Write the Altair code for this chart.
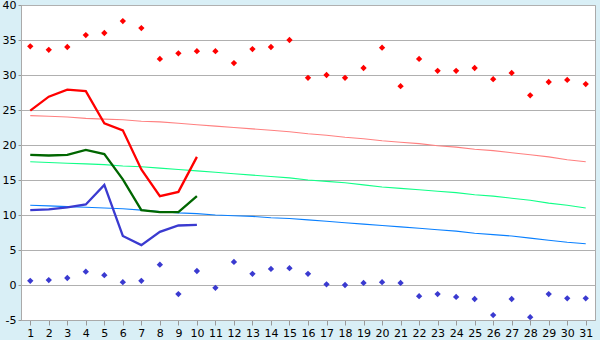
import altair as alt
import pandas as pd

days = list(range(1, 32))

rec_max = [34.1, 33.6, 34.0, 35.7, 36.0, 37.7, 36.7, 32.3, 33.1, 33.4, 33.4, 31.7, 33.7, 34.0, 35.0,
           29.6, 30.0, 29.6, 31.0, 33.9, 28.4, 32.3, 30.6, 30.6, 31.0, 29.4, 30.3, 27.1, 29.0, 29.3, 28.7]
rec_min = [0.6, 0.7, 1.0, 1.9, 1.4, 0.4, 0.6, 2.9, -1.3, 2.0, -0.4, 3.3, 1.6, 2.3, 2.4,
           1.6, 0.1, 0.0, 0.3, 0.4, 0.3, -1.6, -1.3, -1.7, -2.0, -4.3, -2.0, -4.6, -1.3, -1.9, -1.9]

norm_max = [24.2, 24.1, 24.0, 23.8, 23.7, 23.6, 23.4, 23.3, 23.1, 22.9, 22.7, 22.5, 22.3, 22.1, 21.9,
            21.6, 21.4, 21.1, 20.9, 20.6, 20.4, 20.2, 19.9, 19.7, 19.4, 19.2, 18.9, 18.6, 18.3, 17.9, 17.6]
norm_mean = [17.6, 17.5, 17.4, 17.3, 17.2, 17.0, 16.9, 16.7, 16.5, 16.3, 16.1, 15.9, 15.7, 15.5, 15.3,
             15.0, 14.8, 14.6, 14.3, 14.0, 13.8, 13.6, 13.4, 13.2, 12.9, 12.7, 12.4, 12.1, 11.7, 11.4, 11.0]
norm_min = [11.4, 11.3, 11.2, 11.1, 11.0, 10.9, 10.7, 10.5, 10.3, 10.2, 10.0, 9.9, 9.8, 9.6, 9.5,
            9.3, 9.1, 8.9, 8.7, 8.5, 8.3, 8.1, 7.9, 7.7, 7.4, 7.2, 7.0, 6.7, 6.4, 6.1, 5.9]

obs_days = list(range(1, 11))
obs_max = [24.9, 26.9, 27.9, 27.7, 23.1, 22.1, 16.5, 12.7, 13.3, 18.3]
obs_mean = [18.6, 18.5, 18.6, 19.3, 18.7, 15.1, 10.7, 10.4, 10.4, 12.7]
obs_min = [10.7, 10.8, 11.1, 11.5, 14.3, 7.0, 5.7, 7.6, 8.5, 8.6]

normals = pd.DataFrame(
    [{"day": d, "v": v, "s": "nmax"} for d, v in zip(days, norm_max)]
    + [{"day": d, "v": v, "s": "nmean"} for d, v in zip(days, norm_mean)]
    + [{"day": d, "v": v, "s": "nmin"} for d, v in zip(days, norm_min)]
)
obs = pd.DataFrame(
    [{"day": d, "v": v, "s": "omax"} for d, v in zip(obs_days, obs_max)]
    + [{"day": d, "v": v, "s": "omean"} for d, v in zip(obs_days, obs_mean)]
    + [{"day": d, "v": v, "s": "omin"} for d, v in zip(obs_days, obs_min)]
)
recs = pd.DataFrame(
    [{"day": d, "v": v, "s": "rmax"} for d, v in zip(days, rec_max)]
    + [{"day": d, "v": v, "s": "rmin"} for d, v in zip(days, rec_min)]
)

x = alt.X("day:Q", scale=alt.Scale(domain=[0.5, 31.5], nice=False, zero=False),
          axis=alt.Axis(values=days, title=None, grid=False, tickSize=5, tickColor="#999999",
                        domainColor="#aaaaaa", labelFontSize=11, labelColor="#000000",
                        labelPadding=2, labelFont="DejaVu Sans", labelFlush=False))
y = alt.Y("v:Q", scale=alt.Scale(domain=[-5, 40], nice=False, zero=False),
          axis=alt.Axis(values=list(range(-5, 41, 5)), title=None, grid=True, gridColor="#b0b0b0",
                        tickSize=3, tickColor="#999999", domainColor="#aaaaaa", labelFontSize=11,
                        labelColor="#000000", labelPadding=2, labelFont="DejaVu Sans",
                        labelExpr="toString(datum.value)", labelFlush=False))

norm_layer = alt.Chart(normals).mark_line(strokeWidth=1.1).encode(
    x=x, y=y,
    color=alt.Color("s:N", scale=alt.Scale(domain=["nmax", "nmean", "nmin"],
                                           range=["#ff8080", "#11ff88", "#0a80ff"]), legend=None),
    detail="s:N",
)
obs_layer = alt.Chart(obs).mark_line(strokeWidth=2.3).encode(
    x=x, y=y,
    color=alt.Color("s:N", scale=alt.Scale(domain=["omax", "omean", "omin"],
                                           range=["#ff0000", "#006600", "#3a3ad0"]), legend=None),
    detail="s:N",
)
rec_layer = alt.Chart(recs).mark_point(shape="diamond", filled=True, size=40, opacity=1).encode(
    x=x, y=y,
    color=alt.Color("s:N", scale=alt.Scale(domain=["rmax", "rmin"],
                                           range=["#ff0000", "#3a3ad0"]), legend=None),
)

chart = alt.layer(norm_layer, obs_layer, rec_layer).resolve_scale(color="independent").properties(
    width=574, height=315,
    background="#d9eff6",
    padding={"left": 21, "top": 5, "right": 5, "bottom": 20},
    autosize=alt.AutoSizeParams(type="none"),
).configure_view(fill="#ffffff", stroke="#aaaaaa", strokeWidth=1)

chart.save("out.html", embed_options={"renderer": "svg", "actions": False})
